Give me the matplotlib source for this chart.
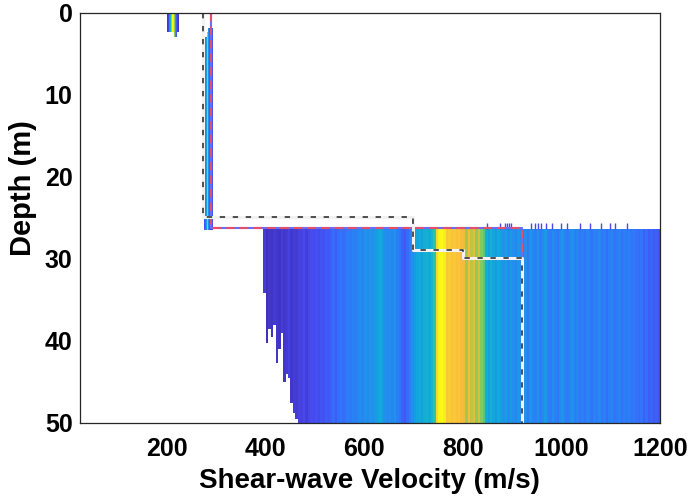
import numpy as np
import matplotlib
matplotlib.use('Agg')
import matplotlib.pyplot as plt
from matplotlib.colors import LinearSegmentedColormap

# parula-like colormap
parula = LinearSegmentedColormap.from_list('parula', [
    (0.00, (0.2422, 0.1504, 0.6603)),
    (0.10, (0.2780, 0.2870, 0.9400)),
    (0.20, (0.2000, 0.4500, 0.9900)),
    (0.30, (0.1300, 0.5600, 0.9300)),
    (0.40, (0.0600, 0.6700, 0.8500)),
    (0.50, (0.1200, 0.7500, 0.7000)),
    (0.60, (0.4500, 0.8000, 0.4200)),
    (0.70, (0.7500, 0.7700, 0.2500)),
    (0.80, (0.9800, 0.7300, 0.2400)),
    (0.90, (0.9800, 0.8400, 0.1800)),
    (1.00, (0.9769, 0.9839, 0.0805))])

# layer 1 histogram (Vs bins 200-224, 2 m/s)
l1_edges = [200, 202, 204, 206, 208, 210, 212, 214, 216, 218, 220, 222, 224]
l1_val = [0.05, 0.08, 0.30, 0.45, 0.70, 1.00, 0.95, 0.65, 0.35, 0.15, 0.08, 0.05]
l1_top = [0.0] * 12
l1_bot = [2.35, 2.35, 2.35, 2.35, 2.35, 2.35, 2.35, 2.9, 2.9, 2.9, 2.35, 2.35]

# layer 2 histogram (Vs bins 274-292, 2 m/s)
l2_edges = [274, 276, 278, 280, 282, 284, 286, 288, 290, 292]
l2_val = [0.12, 0.20, 0.35, 0.70, 0.30, 0.15, 0.10, 0.08, 0.12]
l2_top = [2.9, 2.9, 2.9, 2.3, 1.8, 1.8, 1.8, 1.8, 1.8]
l2_bot = [26.5] * 9

# half-space histogram (Vs bins 395-1200, 5 m/s)
hs_edges = list(range(395, 1201, 5))
hs_val = [0.06, 0.03, 0.05, 0.04, 0.06, 0.05, 0.04, 0.07, 0.05, 0.06, 0.08, 0.05, 0.07, 0.06, 0.08,
          0.08, 0.10, 0.07, 0.09, 0.11, 0.10, 0.12, 0.10, 0.13, 0.12, 0.15, 0.14,
          0.16, 0.18, 0.15, 0.19, 0.21, 0.18, 0.22, 0.24, 0.22, 0.26, 0.24, 0.27,
          0.29, 0.26, 0.31, 0.28, 0.32, 0.30, 0.34, 0.37, 0.40, 0.33, 0.30, 0.28,
          0.30, 0.27, 0.31, 0.24, 0.20, 0.16, 0.14, 0.18, 0.25, 0.30,
          0.34, 0.38, 0.41, 0.36, 0.42, 0.44, 0.40, 0.47, 0.52,
          0.90, 0.98, 1.00, 0.96,
          0.84, 0.86, 0.83, 0.85, 0.82, 0.84, 0.80,
          0.78, 0.66, 0.80, 0.70, 0.76, 0.64, 0.74,
          0.62, 0.56,
          0.42, 0.36, 0.44, 0.38, 0.33, 0.40, 0.35,
          0.31, 0.36, 0.29, 0.34, 0.30, 0.27, 0.33, 0.29,
          0.25, 0.30, 0.23, 0.32, 0.27, 0.25, 0.31, 0.24, 0.28, 0.34, 0.26, 0.23,
          0.30, 0.25, 0.22, 0.28, 0.32, 0.25, 0.23, 0.27, 0.31, 0.24, 0.26, 0.22,
          0.25, 0.21, 0.27, 0.24, 0.20, 0.26, 0.23, 0.28, 0.22, 0.25, 0.19,
          0.24, 0.27, 0.21, 0.23, 0.26, 0.20, 0.24, 0.22, 0.25, 0.21, 0.23,
          0.20, 0.18, 0.21, 0.16, 0.19, 0.15, 0.17, 0.14, 0.16, 0.13]
hs_top = [26.4] * 161
hs_bot = [34.1, 40.2, 38.5, 39.5, 38.0, 42.7, 41.0, 39.0, 45.0, 44.0, 44.5, 47.6, 48.8, 49.5] + [50.0] * 147

# isolated samples just above the half-space interface
spike_vs = [849, 875, 886, 890, 894, 898, 938, 946, 952, 958, 968, 980, 1000,
            1011, 1038, 1058, 1080, 1099, 1109, 1133]

# profiles
true_vs = [289, 289, 920, 920]
true_z = [0, 26.2, 26.2, 50]
ref_vs = [272, 272, 699, 699, 800, 800, 920, 920]
ref_z = [0, 24.9, 24.9, 28.9, 28.9, 29.9, 29.9, 50]

z_edges = np.arange(0, 50.05, 0.1)
z_mid = 0.5 * (z_edges[:-1] + z_edges[1:])


def layer_grid(vals, tops, bots):
    g = np.full((len(z_mid), len(vals)), np.nan)
    for j, (v, t, b) in enumerate(zip(vals, tops, bots)):
        g[(z_mid >= t) & (z_mid <= b), j] = v
    return np.ma.masked_invalid(g)


fig = plt.figure(figsize=(6.88, 4.96), dpi=100)
ax = fig.add_axes([0.1156, 0.1472, 0.8437, 0.8266])

for edges, vals, tops, bots in [(l1_edges, l1_val, l1_top, l1_bot),
                                (l2_edges, l2_val, l2_top, l2_bot),
                                (hs_edges, hs_val, hs_top, hs_bot)]:
    ax.pcolormesh(edges, z_edges, layer_grid(vals, tops, bots),
                  cmap=parula, vmin=0, vmax=1, shading='flat')

ax.vlines(spike_vs, 25.6, 26.4, color=parula(0.1), lw=1)

ax.plot(true_vs, true_z, color='#6b6bf5', lw=1.5)
ax.plot(true_vs, true_z, color='#e4506a', lw=1.5, dashes=(4, 2.5))
ax.plot(ref_vs, ref_z, color='#f2f2f2', lw=2.2)
ax.plot(ref_vs, ref_z, color='#222222', lw=1.1, dashes=(3.5, 5))

ax.set_xlim(22, 1200)
ax.set_ylim(50, 0)
ax.set_xticks([200, 400, 600, 800, 1000, 1200])
ax.set_yticks([0, 10, 20, 30, 40, 50])
ax.tick_params(length=0, labelsize=18)
ax.tick_params(axis='x', pad=10)
ax.tick_params(axis='y', pad=5)
for lab in ax.get_xticklabels() + ax.get_yticklabels():
    lab.set_fontfamily('Liberation Sans')
    lab.set_fontweight('bold')
for s in ax.spines.values():
    s.set_color('#262626')
    s.set_linewidth(0.9)

ax.set_xlabel('Shear-wave Velocity (m/s)', fontsize=20, fontweight='bold',
              family='Liberation Sans')
ax.set_ylabel('Depth (m)', fontsize=21, fontweight='bold', family='Liberation Sans')
ax.yaxis.set_label_coords(-0.074, 0.573)
ax.xaxis.set_label_coords(0.5, -0.11)

fig.savefig('out.png', dpi=100)
